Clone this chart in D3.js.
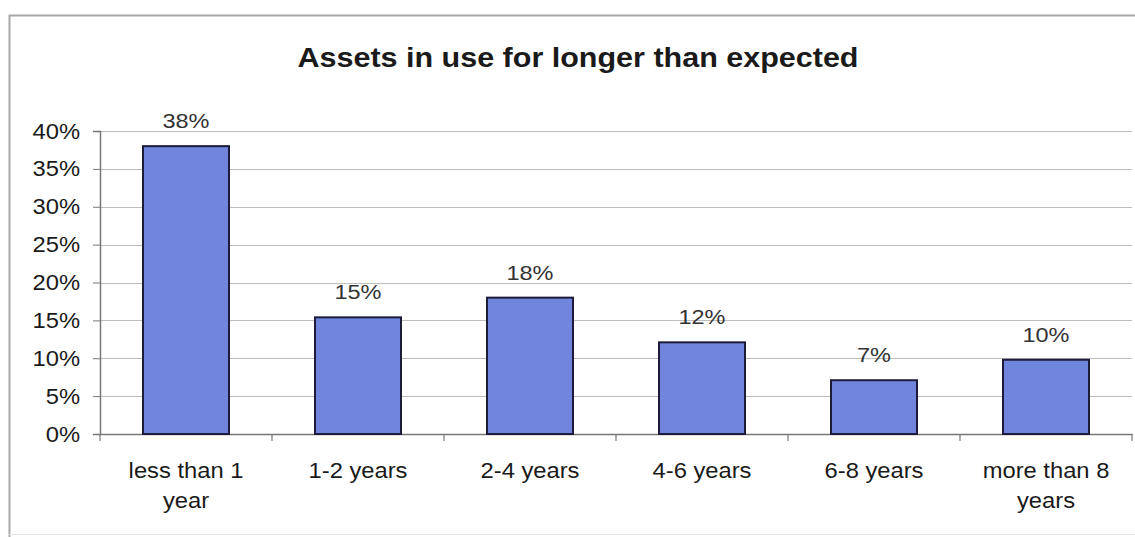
<!DOCTYPE html>
<html><head><meta charset="utf-8">
<script src="https://cdn.jsdelivr.net/npm/d3@7"></script>
<style>body{margin:0;background:#fff}svg{display:block}text{font-family:Arial,"Liberation Sans",sans-serif}</style>
</head><body>
<svg id="c" width="1135" height="537"></svg>
<script>
const categories = [["less than 1","year"],["1-2 years"],["2-4 years"],["4-6 years"],["6-8 years"],["more than 8","years"]];
const values = [0.38, 0.154, 0.18, 0.121, 0.071, 0.098];
const labels = ["38%","15%","18%","12%","7%","10%"];
const yTicks = [0,0.05,0.10,0.15,0.20,0.25,0.30,0.35,0.40];
const title = "Assets in use for longer than expected";

const SX = 1.08; // horizontal stretch of the scanned text
const svg = d3.select("#c");
// outer chart border
svg.append("path").attr("d","M9.5,537 V15.5 H1135").attr("fill","none").attr("stroke","#a8a8a8").attr("stroke-width",2);
svg.append("line").attr("x1",9).attr("x2",1135).attr("y1",534.5).attr("y2",534.5).attr("stroke","#e4e4e4").attr("stroke-width",1);

const x0 = 100, x1 = 1132, yTop = 131, yBot = 434;
const x = d3.scaleBand().domain(d3.range(categories.length)).range([x0,x1]).paddingInner(0.5).paddingOuter(0.25);
const xb = d3.scaleBand().domain(d3.range(categories.length)).range([x0,x1]);
const y = d3.scaleLinear().domain([0,0.40]).range([yBot,yTop]);

svg.append("text").attr("transform",`translate(578,67) scale(1.09,1)`).attr("text-anchor","middle")
  .attr("font-size",28).attr("font-weight","bold").attr("fill","#1a1a1a").text(title);

// gridlines
svg.append("g").selectAll("line").data(yTicks.slice(1)).join("line")
  .attr("x1",x0).attr("x2",x1).attr("y1",d=>Math.round(y(d))+0.5).attr("y2",d=>Math.round(y(d))+0.5)
  .attr("stroke","#bdbdbd").attr("stroke-width",1);

// y axis
const yAxis = d3.axisLeft(y).tickValues(yTicks).tickFormat(d3.format(".0%")).tickSize(7).tickPadding(13);
const gy = svg.append("g").attr("transform",`translate(${x0},0)`).call(yAxis);
gy.select(".domain").attr("stroke","#777").attr("stroke-width",1.5);
gy.selectAll(".tick line").attr("stroke","#777");
gy.selectAll(".tick text").attr("font-size",22).attr("fill","#1a1a1a")
  .attr("font-family","Arial, 'Liberation Sans', sans-serif")
  .attr("x",null).attr("transform",`translate(-20,0) scale(${SX},1)`);

// x axis
const xAxis = d3.axisBottom(xb).tickSize(0).tickFormat("");
const gx = svg.append("g").attr("transform",`translate(0,${yBot})`).call(xAxis);
gx.select(".domain").attr("stroke","#777").attr("stroke-width",1.5);
gx.selectAll(".tick").remove();
svg.append("g").selectAll("line").data(d3.range(categories.length+1)).join("line")
  .attr("x1",i=>i<categories.length?xb(i):x1).attr("x2",i=>i<categories.length?xb(i):x1)
  .attr("y1",yBot).attr("y2",yBot+7).attr("stroke","#777").attr("stroke-width",1.2);

// bars
svg.append("g").selectAll("rect").data(values).join("rect")
  .attr("x",(d,i)=>x(i)).attr("width",x.bandwidth())
  .attr("y",d=>y(d)).attr("height",d=>yBot-y(d))
  .attr("fill","#6f86dc").attr("stroke","#1c1c3a").attr("stroke-width",2);

// data labels
svg.append("g").selectAll("text").data(values).join("text")
  .attr("transform",(d,i)=>`translate(${x(i)+x.bandwidth()/2},${y(d)-18}) scale(1.12,1)`)
  .attr("text-anchor","middle").attr("font-size",21).attr("fill","#333").text((d,i)=>labels[i]);

// category labels
const cg = svg.append("g").selectAll("text").data(categories).join("text")
  .attr("transform",(d,i)=>`translate(${xb(i)+xb.bandwidth()/2},478) scale(${SX},1)`)
  .attr("text-anchor","middle").attr("font-size",22).attr("fill","#1a1a1a");
cg.selectAll("tspan").data(d=>d).join("tspan")
  .attr("x",0).attr("dy",(d,i)=>i===0?0:30).text(d=>d);
</script>
</body></html>
